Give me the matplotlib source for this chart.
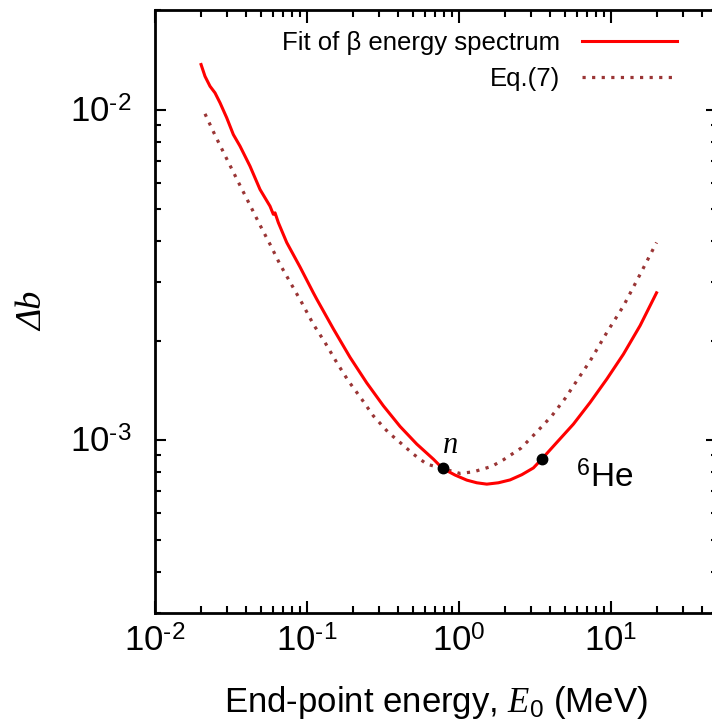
import numpy as np
import matplotlib.pyplot as plt
from matplotlib.ticker import LogLocator, FuncFormatter, NullFormatter

plt.rcParams['font.family'] = ['Liberation Sans', 'DejaVu Sans']
plt.rcParams['mathtext.fontset'] = 'custom'
plt.rcParams['mathtext.rm'] = 'Liberation Sans'
plt.rcParams['mathtext.it'] = 'Liberation Serif:italic'
plt.rcParams['mathtext.bf'] = 'Liberation Sans:bold'

# Fit of beta energy spectrum (solid red)
fit_E0 = [0.0201, 0.02134, 0.02302, 0.02483, 0.02679, 0.02965, 0.03278, 0.03627,
          0.0422, 0.04912, 0.05716, 0.06009, 0.06166, 0.06482, 0.07362, 0.09006,
          0.1102, 0.1160, 0.1493, 0.1922, 0.2475, 0.3184, 0.4101, 0.5282, 0.6795,
          0.782, 0.944, 1.127, 1.312, 1.527, 1.820, 2.173, 2.595, 3.094, 3.51,
          4.411, 5.674, 7.307, 9.412, 12.11, 15.59, 20.0]
fit_db = [0.01368, 0.01260, 0.01176, 0.01123, 0.01048, 0.00944, 0.00840, 0.00775,
          0.00674, 0.00573, 0.00510, 0.00482, 0.00487, 0.00455, 0.00396, 0.00334,
          0.00279, 0.00267, 0.00217, 0.00178, 0.00149, 0.00127, 0.00110, 0.000973,
          0.000876, 0.000821, 0.000784, 0.000757, 0.000743, 0.000736, 0.000743,
          0.000758, 0.000786, 0.000824, 0.000876,
          0.000984, 0.001118, 0.00130, 0.00153, 0.00182, 0.00222, 0.00279]

# Eq.(7) (dotted)
eq7_E0 = [0.02134, 0.02483, 0.0289, 0.03627, 0.0422, 0.04912, 0.05716, 0.0665,
          0.09242, 0.1102, 0.1316, 0.1571, 0.1873, 0.2294, 0.2736, 0.3434, 0.4101,
          0.5017, 0.6145, 0.782, 1.018, 1.246, 1.647, 1.964, 2.567, 3.257, 4.089,
          5.004, 6.027, 7.307, 9.412, 12.11, 15.59, 20.0]
eq7_db = [0.009705, 0.008364, 0.007262, 0.005894, 0.005138, 0.00447, 0.003912,
          0.003401, 0.002606, 0.002241, 0.001973, 0.001717, 0.001511, 0.00133,
          0.001184, 0.001055, 0.000984, 0.000907, 0.000846, 0.000821, 0.000793,
          0.000802, 0.000833, 0.000872, 0.000946, 0.001059, 0.001184, 0.001337,
          0.001521, 0.001736, 0.002116, 0.002545, 0.003173, 0.00396]

# marked decays
nuc_E0 = [0.782, 3.51]
nuc_db = [0.000821, 0.000876]


def decade_label(v, pos):
    e = int(round(np.log10(v)))
    # plain hyphen for the exponent sign, as in the original
    return '$10^{%s}$' % (str(e).replace('-', '\u2010'))


fig = plt.figure(figsize=(7.12, 7.21), dpi=100)
# right spine sits just outside the picture, like the cropped original
ax = fig.add_axes([155/712, 108/721, 562/712, 603/721])

l_eq7, = ax.plot(eq7_E0, eq7_db, color='#9a3535', lw=2.3, ls=(0, (1, 2)))
l_fit, = ax.plot(fit_E0, fit_db, color='#ff0000', lw=2.2)
ax.plot(nuc_E0, nuc_db, 'o', color='black', ms=7.5, zorder=5)

ax.annotate('n', (nuc_E0[0], nuc_db[0]), xytext=(6, 11), textcoords='offset points',
            ha='center', va='baseline', fontsize=22, family='Liberation Serif',
            style='italic')
ax.annotate('$^{6}$He', (nuc_E0[1], nuc_db[1]), xytext=(25, -20),
            textcoords='offset points', ha='left', va='baseline', fontsize=24)

ax.set_xscale('log')
ax.set_yscale('log')
ax.set_xlim(0.01, 50)
ax.set_ylim(3e-4, 2e-2)

for a in (ax.xaxis, ax.yaxis):
    a.set_major_locator(LogLocator(base=10))
    a.set_minor_locator(LogLocator(base=10, subs=np.arange(2, 10)))
    a.set_major_formatter(FuncFormatter(decade_label))
    a.set_minor_formatter(NullFormatter())

ax.tick_params(which='both', direction='in', top=True, right=True, width=1.5,
               labelsize=25)
ax.tick_params(axis='x', which='major', length=9, pad=9)
ax.tick_params(axis='x', which='minor', length=5)
ax.tick_params(axis='y', which='major', length=8, pad=17)
ax.tick_params(axis='y', which='minor', length=4.5)
for s in ax.spines.values():
    s.set_linewidth(2)

ax.set_xlabel('End-point energy, $E_{\\mathit{0}}$ (MeV)', fontsize=25)
ax.xaxis.set_label_coords(0.5, -0.118)
ax.set_ylabel('\u0394b', fontsize=26, family='Liberation Serif', style='italic')
ax.yaxis.set_label_coords(-0.186, 0.5)

leg1 = ax.legend([l_fit], ['Fit of \u03b2 energy spectrum'], loc='center right',
                 bbox_to_anchor=(0.929, 0.945), frameon=False, markerfirst=False,
                 fontsize=18.5, handlelength=3.7, handletextpad=0.85,
                 borderpad=0, borderaxespad=0)
ax.add_artist(leg1)
ax.legend([l_eq7], ['Eq.(7)'], loc='center right',
          bbox_to_anchor=(0.929, 0.886), frameon=False, markerfirst=False,
          fontsize=18.5, handlelength=3.7, handletextpad=0.85,
          borderpad=0, borderaxespad=0)

fig.savefig('out.png', dpi=100)
